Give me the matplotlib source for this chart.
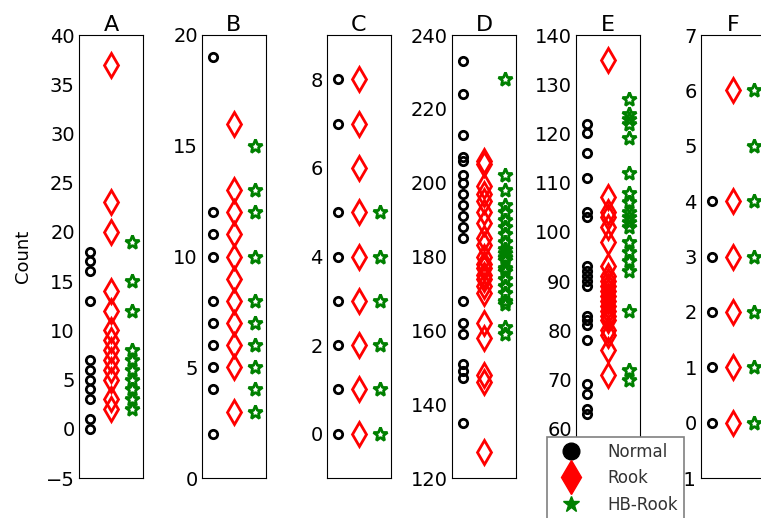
import matplotlib
matplotlib.use('Agg')
import matplotlib.pyplot as plt
from matplotlib.lines import Line2D

# panel names and y ranges
panels = ['A', 'B', 'C', 'D', 'E', 'F']
ylims = [(-5, 40), (0, 20), (-1, 9), (120, 240), (50, 140), (-1, 7)]
yticks = [range(-5, 41, 5), range(0, 21, 5), range(0, 9, 2),
          range(120, 241, 20), range(50, 141, 10), range(-1, 8, 1)]

# values
normal_A = [18, 17, 16, 13, 7, 6, 5, 4, 3, 1, 0]
rook_A = [37, 23, 20, 14, 12, 10, 9, 8, 7, 6, 5, 3, 2]
hb_A = [19, 15, 12, 8, 7, 6, 5, 4, 3, 2]

normal_B = [19, 12, 11, 10, 8, 7, 6, 5, 4, 2]
rook_B = [16, 13, 12, 11, 10, 9, 8, 7, 6, 5, 3]
hb_B = [15, 13, 12, 10, 8, 7, 6, 5, 4, 3]

normal_C = [8, 7, 5, 4, 3, 2, 1, 0]
rook_C = [8, 7, 6, 5, 4, 3, 2, 1, 0]
hb_C = [5, 4, 3, 2, 1, 0]

normal_D = [233, 224, 213, 207, 206, 202, 200, 197, 194, 191, 188, 185,
            168, 162, 159, 151, 149, 147, 135]
rook_D = [206, 205, 199, 197, 195, 192, 189, 185, 183, 180, 178, 177, 175,
          174, 172, 170, 162, 158, 148, 146, 127]
hb_D = [228, 202, 198, 194, 192, 190, 188, 186, 184, 182, 181, 180, 179,
        177, 176, 174, 172, 170, 168, 167, 161, 159]

normal_E = [122, 120, 116, 111, 104, 103, 93, 92, 91, 90, 89, 83, 82, 81,
            78, 69, 67, 64, 63]
rook_E = [135, 107, 104, 103, 101, 98, 93, 91, 90, 89, 88, 87, 86, 85, 84,
          83, 82, 80, 79, 76, 71]
hb_E = [127, 124, 123, 122, 119, 112, 108, 106, 104, 103, 102, 101, 98, 96,
        94, 92, 84, 72, 70]

normal_F = [4, 3, 2, 1, 0]
rook_F = [6, 4, 3, 2, 1, 0]
hb_F = [6, 5, 4, 3, 2, 1, 0]

normal = [normal_A, normal_B, normal_C, normal_D, normal_E, normal_F]
rook = [rook_A, rook_B, rook_C, rook_D, rook_E, rook_F]
hb = [hb_A, hb_B, hb_C, hb_D, hb_E, hb_F]

W, H = 761, 518
fig = plt.figure(figsize=(W / 100, H / 100), dpi=100)

lefts = [79, 202, 327, 452, 576, 701]
top, bottom, width = 35, 478, 64

for i, name in enumerate(panels):
    ax = fig.add_axes([lefts[i] / W, 1 - bottom / H, width / W, (bottom - top) / H])
    ax.plot([1] * len(normal[i]), normal[i], 'o', mfc='none', mec='k', mew=2, ms=6)
    ax.plot([2] * len(rook[i]), rook[i], 'd', mfc='none', mec='r', mew=2, ms=12)
    ax.plot([3] * len(hb[i]), hb[i], '*', mfc='none', mec='g', mew=2, ms=10.5)
    ax.set_xlim(0.5, 3.5)
    ax.set_ylim(*ylims[i])
    ax.set_yticks(list(yticks[i]))
    ax.set_xticks([])
    ax.tick_params(axis='y', length=0, labelsize=14, pad=3)
    ax.set_title(name, fontsize=16, pad=3)
    if i == 0:
        ax.set_ylabel('Count', fontsize=13, labelpad=10)

handles = [
    Line2D([], [], marker='o', color='k', ls='none', ms=12),
    Line2D([], [], marker='d', color='r', ls='none', ms=17),
    Line2D([], [], marker='*', color='g', ls='none', ms=12),
]
leg = fig.legend(handles, ['Normal', 'Rook', 'HB-Rook'], loc='upper left',
                 bbox_to_anchor=(547 / W, 1 - 437 / H), borderaxespad=0,
                 fontsize=12, framealpha=1, fancybox=False, edgecolor='0.5',
                 borderpad=0.35, handletextpad=1.1, labelspacing=0.5,
                 handlelength=2.2)
leg.get_frame().set_linewidth(1.2)
for t in leg.get_texts():
    t.set_color('0.2')

fig.savefig('out.png', dpi=100)
